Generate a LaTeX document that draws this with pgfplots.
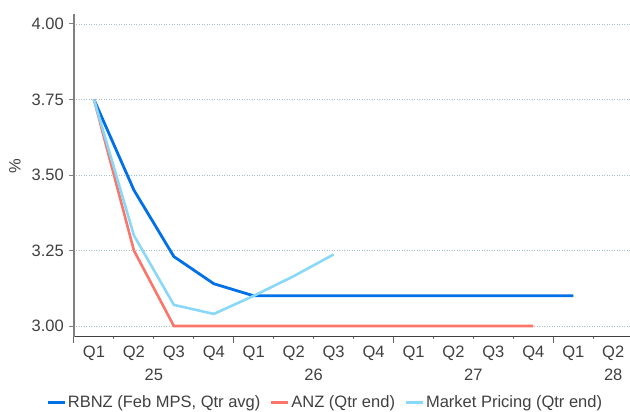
\documentclass[border=0pt]{standalone}
\usepackage{pgfplots}
\pgfplotsset{compat=1.18}
\usepackage{fontspec}
\setmainfont{Liberation Sans}
\definecolor{rbnz}{RGB}{0,112,230}
\definecolor{anz}{RGB}{250,117,106}
\definecolor{mkt}{RGB}{138,216,248}
\definecolor{txt}{RGB}{64,64,64}
\definecolor{gridc}{RGB}{165,190,205}
\newcommand{\ff}{\fontsize{16.5}{19}\selectfont}
\begin{document}
\begin{tikzpicture}
\useasboundingbox (0pt,0pt) rectangle (630pt,-412pt);
\begin{axis}[
  at={(74pt,-336.7pt)}, anchor=south west,
  scale only axis, width=556pt, height=322.7pt,
  xmin=-0.5, xmax=13.42, ymin=2.9646, ymax=4.0331,
  clip=false,
  axis x line*=bottom, axis y line*=left,
  x axis line style={-, draw=black!75, line width=1.3pt},
  y axis line style={-, draw=black!50, line width=1.6pt},
  ytick={3,3.25,3.5,3.75,4},
  yticklabel style={/pgf/number format/fixed, /pgf/number format/fixed zerofill, /pgf/number format/precision=2},
  /pgf/number format/assume math mode=true,
  ymajorgrids,
  major grid style={draw=gridc, line width=0.6pt, dash pattern=on 1pt off 1.5pt},
  major tick length=0pt,
  xtick={0,1,2,3,4,5,6,7,8,9,10,11,12,13},
  xticklabels={Q1,Q2,Q3,Q4,Q1,Q2,Q3,Q4,Q1,Q2,Q3,Q4,Q1,Q2},
  every tick label/.append style={font=\ff, text=txt},
  xticklabel style={anchor=north, inner sep=0pt, yshift=-9pt},
  yticklabel style={anchor=east, inner sep=0pt, xshift=-10pt},
  ylabel={\%},
  ylabel style={font=\ff, text=txt, at={(axis description cs:0,0.529)}, anchor=center, yshift=59pt},
  legend columns=3,
  legend style={at={(axis description cs:0.4514,-0.2024)}, anchor=center, draw=none, fill=none,
    font=\ff, text=txt, inner sep=0pt,
    /tikz/every even column/.append style={column sep=8pt},
    nodes={inner sep=1.5pt}},
  legend image code/.code={\draw[#1, line width=3pt] (0pt,0pt) -- (17pt,0pt);},
]
\addplot[rbnz, line width=2.8pt] coordinates {
 (0,3.75) (1,3.45) (2,3.23) (3,3.14) (4,3.10) (5,3.10) (6,3.10) (7,3.10) (8,3.10) (9,3.10) (10,3.10) (11,3.10) (12,3.10)};
\addlegendentry{RBNZ (Feb MPS, Qtr avg)}
\addplot[anz, line width=2.6pt] coordinates {
 (0,3.75) (1,3.25) (2,3.00) (3,3.00) (4,3.00) (5,3.00) (6,3.00) (7,3.00) (8,3.00) (9,3.00) (10,3.00) (11,3.00)};
\addlegendentry{ANZ (Qtr end)}
\addplot[mkt, line width=2.6pt] coordinates {
 (0,3.75) (1,3.30) (2,3.07) (3,3.04) (4,3.10) (5,3.165) (6,3.237)};
\addlegendentry{Market Pricing (Qtr end)}
\pgfplotsinvokeforeach{0.5,1.5,2.5,4.5,5.5,6.5,8.5,9.5,10.5,12.5}{
  \draw[black!60, line width=1pt] (axis cs:#1,2.9646) -- ++(0pt,-2.5pt);
}
\pgfplotsinvokeforeach{-0.5,3.5,7.5,11.5}{
  \draw[black!60, line width=1pt] (axis cs:#1,2.9646) -- ++(0pt,-6.5pt);
}
\pgfplotsinvokeforeach{3,3.25,3.5,3.75,4}{
  \draw[black!50, line width=1pt] (axis cs:-0.5,#1) -- ++(-5pt,0pt);
}
\node[font=\ff, text=txt] at (axis cs:1.5,2.9646) [yshift=-38pt] {25};
\node[font=\ff, text=txt] at (axis cs:5.5,2.9646) [yshift=-38pt] {26};
\node[font=\ff, text=txt] at (axis cs:9.5,2.9646) [yshift=-38pt] {27};
\node[font=\ff, text=txt] at (axis cs:13,2.9646) [yshift=-38pt] {28};
\end{axis}
\end{tikzpicture}
\end{document}
